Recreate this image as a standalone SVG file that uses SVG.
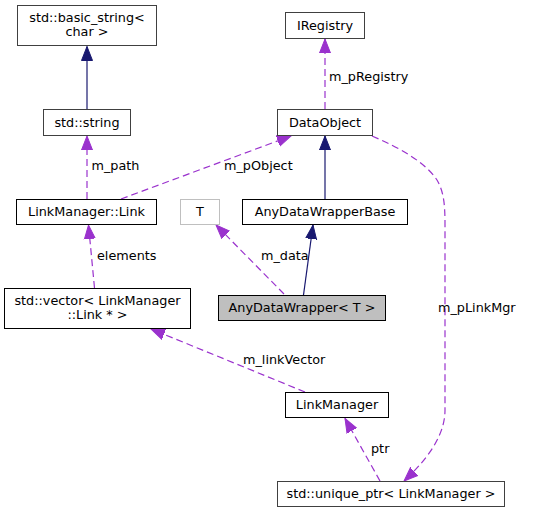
<svg xmlns="http://www.w3.org/2000/svg" width="535" height="513" viewBox="0 0 535 513">
<style>
text{font-family:"DejaVu Sans","Liberation Sans",sans-serif;font-size:12.8px;fill:#000}
.n{text-anchor:middle}
.b{fill:#fff;stroke:#000;stroke-width:1}
.g{fill:#fff;stroke:#404040;stroke-width:1}
.inh{fill:none;stroke:#191970;stroke-width:1.2}
.use{fill:none;stroke:#9a32cd;stroke-width:1.2;stroke-dasharray:7,4}
</style>
<defs>
<marker id="an" markerUnits="userSpaceOnUse" markerWidth="15" markerHeight="13" refX="14" refY="6" orient="auto" viewBox="0 0 15 12">
<path d="M0,0.5 L14,6 L0,11.5 z" fill="#191970" stroke="#191970" stroke-dasharray="none"/>
</marker>
<marker id="ap" markerUnits="userSpaceOnUse" markerWidth="15" markerHeight="13" refX="14" refY="6" orient="auto" viewBox="0 0 15 12">
<path d="M0,0.5 L14,6 L0,11.5 z" fill="#9a32cd" stroke="#9a32cd" stroke-dasharray="none"/>
</marker>
</defs>
<g id="edges">
<path class="inh" d="M87,109 L87,46.5" marker-end="url(#an)"/>
<path class="use" d="M87,199 L87,136" marker-end="url(#ap)"/>
<path class="use" d="M121,199 L291,136" marker-end="url(#ap)"/>
<path class="use" d="M325,109 L325,39" marker-end="url(#ap)"/>
<path class="inh" d="M325,199 L325,136" marker-end="url(#an)"/>
<path class="inh" d="M303.5,295 L313,225" marker-end="url(#an)"/>
<path class="use" d="M284,294 L216,225" marker-end="url(#ap)"/>
<path class="use" d="M94.5,288 L88.5,225" marker-end="url(#ap)"/>
<path class="use" d="M305,392 L151,329" marker-end="url(#ap)"/>
<path class="use" d="M380,481 L345,418.5" marker-end="url(#ap)"/>
<path class="use" d="M372,136 C400,148 425,162 437,180 C444,192 445,205 445,225 L445,410 C445,432 432,455 404,481" marker-end="url(#ap)"/>
<text x="91.5" y="170">m_path</text>
<text x="224" y="170">m_pObject</text>
<text x="329" y="81">m_pRegistry</text>
<text x="261" y="260">m_data</text>
<text x="97" y="260">elements</text>
<text x="243" y="364">m_linkVector</text>
<text x="371" y="453">ptr</text>
<text x="438" y="312">m_pLinkMgr</text>
</g>
<g id="basic_string"><rect class="g" x="17.5" y="5.5" width="139" height="40"/><text class="n" x="87" y="22">std::basic_string&lt;</text><text class="n" x="87" y="36">char &gt;</text></g>
<g id="std_string"><rect class="g" x="43.5" y="109.5" width="87" height="26"/><text class="n" x="87" y="127">std::string</text></g>
<g id="link"><rect class="b" x="16.5" y="199.5" width="140" height="25"/><text class="n" x="86.5" y="216">LinkManager::Link</text></g>
<g id="T"><rect fill="#fff" stroke="#bfbfbf" x="180.5" y="199.5" width="39" height="25"/><text class="n" x="200" y="216">T</text></g>
<g id="anydatawrapperbase"><rect class="b" x="242.5" y="199.5" width="165" height="25"/><text class="n" x="325" y="216">AnyDataWrapperBase</text></g>
<g id="iregistry"><rect class="g" x="285.5" y="12.5" width="79" height="26"/><text class="n" x="325" y="30">IRegistry</text></g>
<g id="dataobject"><rect class="g" x="277.5" y="109.5" width="95" height="26"/><text class="n" x="325" y="127">DataObject</text></g>
<g id="vector"><rect class="b" x="4.5" y="288.5" width="186" height="40"/><text class="n" x="97.5" y="305">std::vector&lt; LinkManager</text><text class="n" x="97.5" y="319">::Link * &gt;</text></g>
<g id="anydatawrapper"><rect fill="#bfbfbf" stroke="#000" x="218.5" y="295.5" width="167" height="25"/><text class="n" x="302" y="312">AnyDataWrapper&lt; T &gt;</text></g>
<g id="linkmanager"><rect class="b" x="285.5" y="392.5" width="103" height="25"/><text class="n" x="337" y="409">LinkManager</text></g>
<g id="unique_ptr"><rect class="g" x="277.5" y="481.5" width="227" height="25"/><text class="n" x="391" y="498">std::unique_ptr&lt; LinkManager &gt;</text></g>
</svg>
